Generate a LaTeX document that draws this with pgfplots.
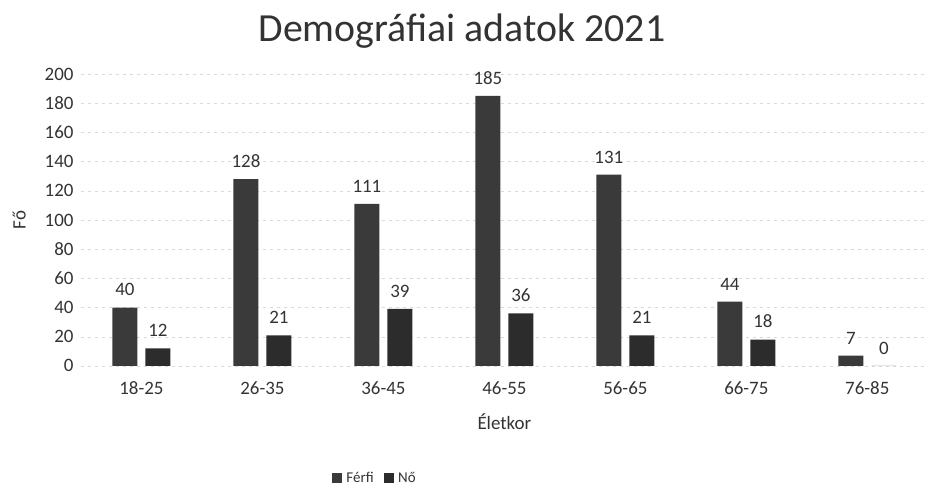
\documentclass[border=0pt]{standalone}
\usepackage{pgfplots}
\pgfplotsset{compat=1.18}
\usepackage{fontspec}
\setmainfont{Carlito}
\definecolor{ferfi}{HTML}{3A3A3A}
\definecolor{no}{HTML}{2C2C2C}
\definecolor{txt}{HTML}{333333}

\begin{document}
\begin{tikzpicture}[x=1bp,y=1bp]
\path (0,0) rectangle (928,490);
\begin{axis}[
  at={(81bp,124bp)}, anchor=south west,
  scale only axis, width=847bp, height=292bp,
  ybar=8bp, bar width=25bp,
  xmin=-0.5, xmax=6.5, ymin=0, ymax=200,
  ytick={0,20,...,200},
  xtick=data,
  xticklabels={18-25,26-35,36-45,46-55,56-65,66-75,76-85},
  axis line style={draw=none}, major tick length=0pt,
  ymajorgrids, major grid style={gray!30, dash pattern=on 3bp off 4bp},
  /pgf/number format/assume math mode=true,
  tick label style={font=\fontsize{19}{22}\selectfont, text=txt},
  yticklabel style={xshift=-4bp},
  xticklabel style={yshift=-12bp},
  xlabel={Életkor}, ylabel={Fő},
  label style={font=\fontsize{19}{22}\selectfont, text=txt},
  xlabel style={yshift=-12bp},
  ylabel style={yshift=12bp},
  nodes near coords,
  nodes near coords style={font=\fontsize{19}{22}\selectfont, text=txt, yshift=8bp},
  legend columns=2,
  legend style={draw=none, at={(0.347,-0.384)}, anchor=center,
    font=\fontsize{15}{17}\selectfont, text=txt,
    /tikz/every even column/.append style={column sep=8bp}},
  legend image code/.code={\fill[#1] (0bp,-5bp) rectangle (10bp,5bp);},
]
\addplot[fill=ferfi, draw=none] coordinates {(0,40) (1,128) (2,111) (3,185) (4,131) (5,44) (6,7)};
\addplot[fill=no, draw=none] coordinates {(0,12) (1,21) (2,39) (3,36) (4,21) (5,18) (6,0)};
\legend{\,Férfi, \,Nő}
\end{axis}
\node[font=\fontsize{40}{46}\selectfont, text=txt] at (462,459) {Demográfiai adatok 2021};
\end{tikzpicture}
\end{document}
